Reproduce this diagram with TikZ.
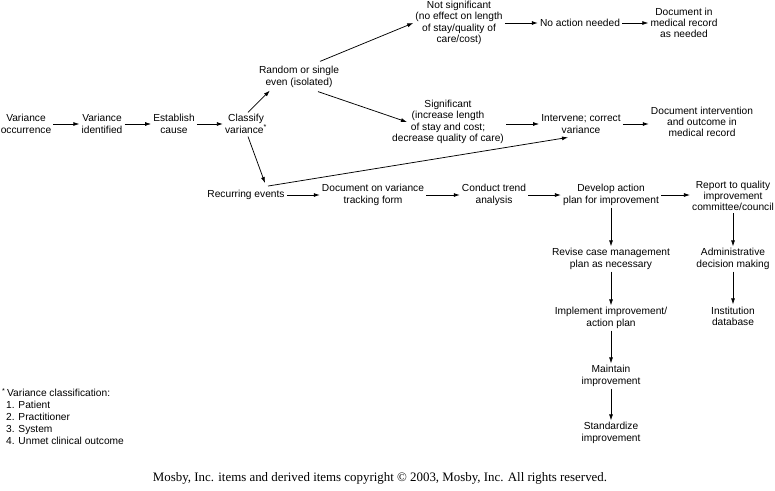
\documentclass[tikz,border=0pt]{standalone}
\usepackage{fontspec}
\setmainfont{Liberation Sans}
\newfontfamily\copyfont{Liberation Serif}
\usetikzlibrary{arrows.meta,calc}
\begin{document}
\begin{tikzpicture}[x=1pt,y=-1pt,
  box/.style={align=center,inner sep=2pt,font=\fontsize{10.2}{11.3}\selectfont},
  arr/.style={-{Latex[length=6pt,width=4pt]},line width=0.75pt}]
\useasboundingbox (0,0) rectangle (775,490);
% row 1
\node[box] (occ) at (26,124) {Variance\\occurrence};
\node[box] (ident) at (102,124) {Variance\\identified};
\node[box] (estab) at (174,124) {Establish\\cause};
\node[box] (classify) at (246,124) {Classify\\variance\textsuperscript{*}};
% upper branch
\node[box] (random) at (299,77) {Random or single\\even (isolated)};
\node[box] (notsig) at (459,23) {Not significant\\(no effect on length\\of stay/quality of\\care/cost)};
\node[box] (noaction) at (580,23) {No action needed};
\node[box] (docin) at (684,23) {Document in\\medical record\\as needed};
\node[box] (sig) at (448,122) {Significant\\(increase length\\of stay and cost;\\decrease quality of care)};
\node[box] (intervene) at (581,124) {Intervene; correct\\variance};
\node[box] (docint) at (702,122) {Document intervention\\and outcome in\\medical record};
% row 3
\node[box] (recurring) at (246,195) {Recurring events};
\node[box] (doctrack) at (373,195) {Document on variance\\tracking form};
\node[box] (trend) at (494,195) {Conduct trend\\analysis};
\node[box] (develop) at (611,195) {Develop action\\plan for improvement};
\node[box] (report) at (733,196) {Report to quality\\improvement\\committee/council};
% columns
\node[box] (revise) at (611,259) {Revise case management\\plan as necessary};
\node[box] (implement) at (611,318) {Implement improvement/\\action plan};
\node[box] (maintain) at (611,376) {Maintain\\improvement};
\node[box] (standard) at (611,433) {Standardize\\improvement};
\node[box] (admin) at (733,259) {Administrative\\decision making};
\node[box] (inst) at (733,316) {Institution\\database};
% footnote
\node[anchor=north west,align=left,inner sep=0pt,font=\fontsize{10.2}{12}\selectfont] (foot) at (2,388)
  {\textsuperscript{*}\,Variance classification:\\\hspace*{4pt}1. Patient\\\hspace*{4pt}2. Practitioner\\\hspace*{4pt}3. System\\\hspace*{4pt}4. Unmet clinical outcome};
\node[font=\copyfont\fontsize{12.9}{14}\selectfont,inner sep=0pt] (copy) at (380,478)
  {Mosby, Inc. items and derived items copyright \textcopyright{} 2003, Mosby, Inc. All rights reserved.};
% arrows row 1
\draw[arr] (occ) -- (ident);
\draw[arr] (ident) -- (estab);
\draw[arr] (estab) -- (classify);
% branches
\draw[arr] ([xshift=2pt]classify.north) -- ([xshift=13pt,yshift=-1pt]random.south west);
\draw[arr] ([xshift=21pt,yshift=3pt]random.north) -- (notsig.west);
\draw[arr] ([xshift=19pt,yshift=-2pt]random.south) -- ([xshift=17pt]sig.west);
\draw[arr] ([xshift=2pt,yshift=-1pt]classify.south) -- ([xshift=19pt,yshift=5pt]recurring.north);
\draw[arr] ([xshift=22pt,yshift=2pt]recurring.north) -- ([xshift=-13pt,yshift=-2pt]intervene.south);
% top row
\draw[arr] (notsig.east |- noaction.west) -- (noaction.west);
\draw[arr] (noaction) -- (docin);
% middle row
\draw[arr] (sig.east |- intervene.west) -- (intervene.west);
\draw[arr] (intervene.east) -- (intervene.east -| docint.west);
% row 3
\draw[arr] (recurring) -- (doctrack);
\draw[arr] (doctrack) -- (trend);
\draw[arr] (trend) -- (develop);
\draw[arr] (develop.east) -- (develop.east -| report.west);
% columns
\draw[arr] (develop) -- (revise);
\draw[arr] (revise) -- (implement);
\draw[arr] (implement) -- (maintain);
\draw[arr] (maintain) -- (standard);
\draw[arr] (report) -- (admin);
\draw[arr] (admin) -- (inst);
\end{tikzpicture}
\end{document}
